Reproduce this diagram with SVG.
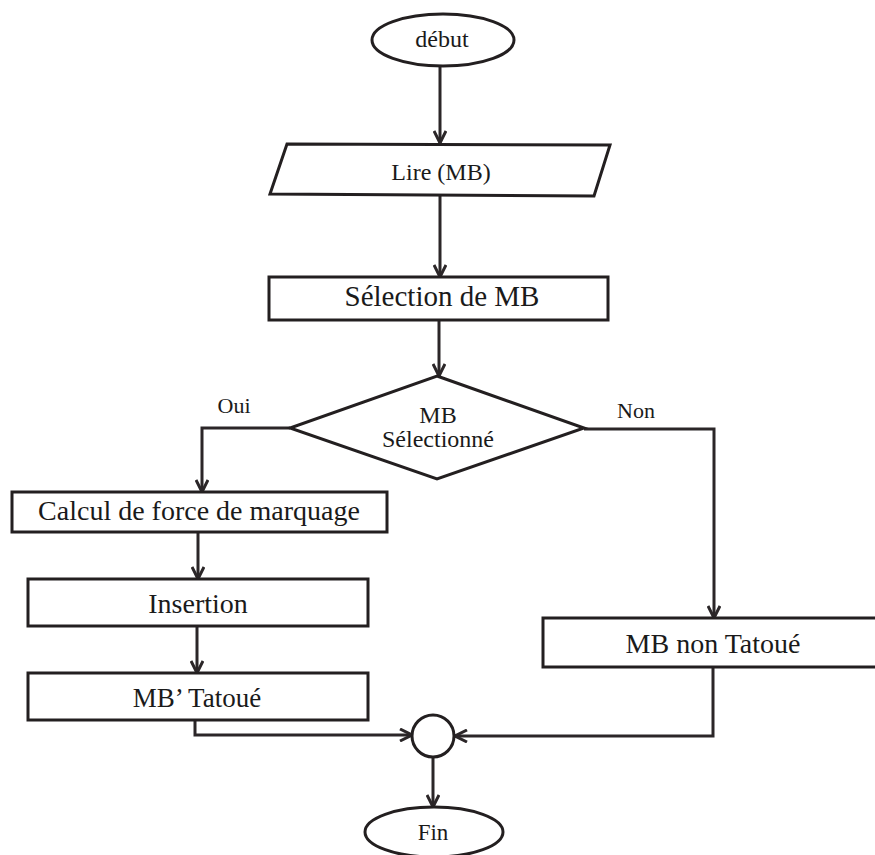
<svg xmlns="http://www.w3.org/2000/svg" width="875" height="855" viewBox="0 0 875 855">
  <defs>
    <marker id="arrow" viewBox="0 0 14 14" refX="13" refY="7" markerWidth="14" markerHeight="14" markerUnits="userSpaceOnUse" orient="auto">
      <path d="M1,1 L13,7 L1,13" fill="none" stroke="#2b2628" stroke-width="3" stroke-linejoin="miter"/>
    </marker>
  </defs>
  <style>
    .shape { fill: #ffffff; stroke: #231f20; stroke-width: 3; }
    .line { fill: none; stroke: #2b2628; stroke-width: 3; }
    .txt { font-family: "Liberation Serif", "Times New Roman", serif; fill: #1a1a1a; text-anchor: middle; }
  </style>
  <rect width="875" height="855" fill="#ffffff"/>

  <!-- connectors -->
  <g id="connectors">
    <line class="line" x1="440" y1="67" x2="440" y2="143" marker-end="url(#arrow)"/>
    <line class="line" x1="440" y1="196" x2="440" y2="277" marker-end="url(#arrow)"/>
    <line class="line" x1="439" y1="320" x2="439" y2="376" marker-end="url(#arrow)"/>
    <polyline class="line" points="290,428 202,428 202,492" marker-end="url(#arrow)"/>
    <polyline class="line" points="584,429 714,429 714,618" marker-end="url(#arrow)"/>
    <line class="line" x1="198" y1="532" x2="198" y2="579" marker-end="url(#arrow)"/>
    <line class="line" x1="197" y1="626" x2="197" y2="673" marker-end="url(#arrow)"/>
    <polyline class="line" points="195,720 195,735 412,735" marker-end="url(#arrow)"/>
    <polyline class="line" points="713,667 713,736 455,736" marker-end="url(#arrow)"/>
    <line class="line" x1="433" y1="757" x2="433" y2="807" marker-end="url(#arrow)"/>
  </g>

  <g id="debut">
    <ellipse class="shape" cx="443" cy="40" rx="71" ry="26"/>
    <text class="txt" x="442" y="47" font-size="24">début</text>
  </g>

  <g id="lire">
    <polygon class="shape" points="287,144 610,145 594,196 270,194"/>
    <text class="txt" x="441" y="180" font-size="24">Lire (MB)</text>
  </g>

  <g id="selection">
    <rect class="shape" x="269" y="277" width="339" height="43"/>
    <text class="txt" x="442" y="306" font-size="29">Sélection de MB</text>
  </g>

  <g id="decision">
    <polygon class="shape" points="437,376 584,428 437,479 290,428"/>
    <text class="txt" x="438" y="423" font-size="24">MB</text>
    <text class="txt" x="438" y="447" font-size="24">Sélectionné</text>
  </g>

  <g id="labels">
    <text class="txt" x="234" y="413" font-size="22">Oui</text>
    <text class="txt" x="636" y="418" font-size="22">Non</text>
  </g>

  <g id="calcul">
    <rect class="shape" x="12" y="492" width="375" height="40"/>
    <text class="txt" x="199" y="520" font-size="28">Calcul de force de marquage</text>
  </g>

  <g id="insertion">
    <rect class="shape" x="28" y="579" width="340" height="47"/>
    <text class="txt" x="198" y="613" font-size="28">Insertion</text>
  </g>

  <g id="tatoue">
    <rect class="shape" x="28" y="673" width="340" height="47"/>
    <text class="txt" x="197" y="707" font-size="27">MB’ Tatoué</text>
  </g>

  <g id="non-tatoue">
    <rect class="shape" x="543" y="618" width="340" height="49"/>
    <text class="txt" x="713" y="653" font-size="28">MB non Tatoué</text>
  </g>

  <g id="jonction">
    <circle class="shape" cx="433" cy="736" r="21"/>
  </g>

  <g id="fin">
    <ellipse class="shape" cx="434" cy="832" rx="69" ry="25"/>
    <text class="txt" x="433" y="840" font-size="23">Fin</text>
  </g>
</svg>
